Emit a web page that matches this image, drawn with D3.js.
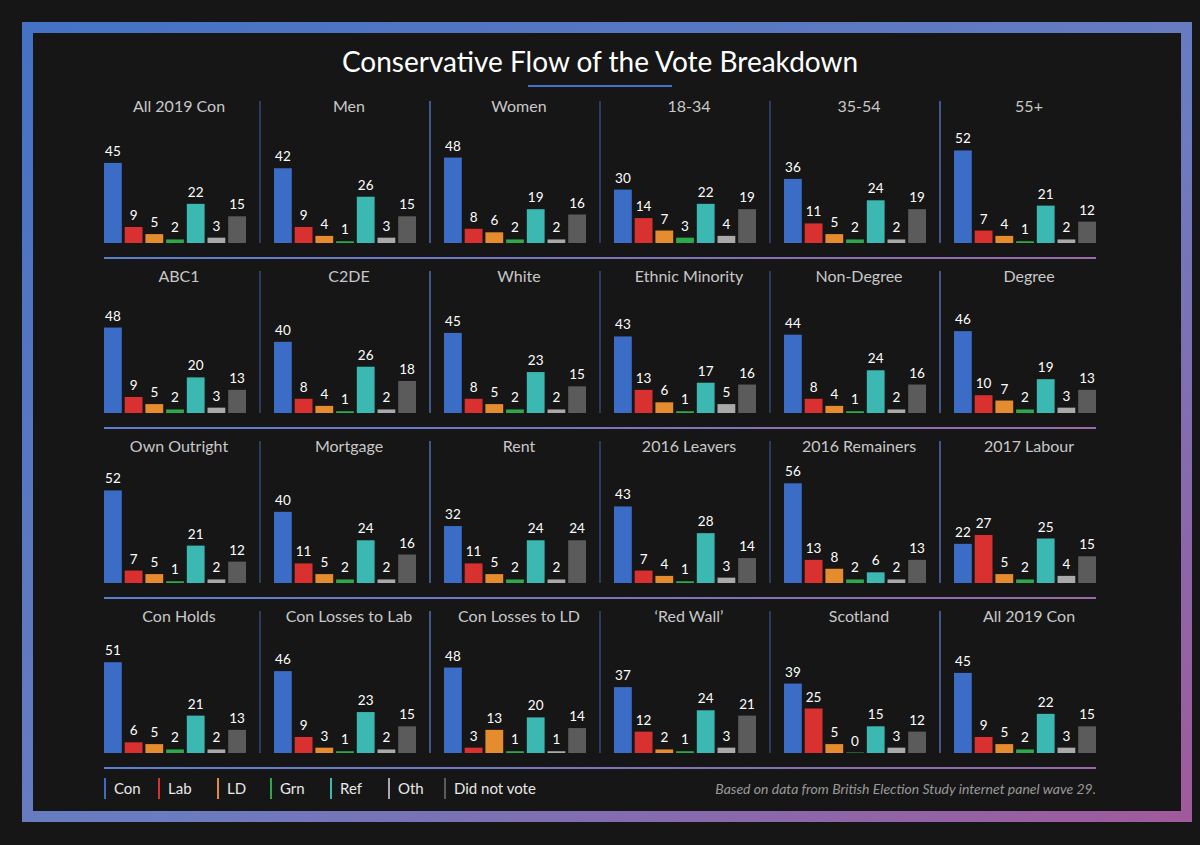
<!DOCTYPE html><html><head><meta charset="utf-8"><script src="https://cdn.jsdelivr.net/npm/d3@7"></script>
<style>body{margin:0;background:#161616}</style></head><body><svg id="c" width="1200" height="845"></svg>
<script>
const parties=["Con","Lab","LD","Grn","Ref","Oth","Did not vote"];
const colors=["#3b6cc6","#d93030","#e58d2e","#2ea84b","#3bb8b1","#a9a9a9","#5b5b5b"];
const groups=["All 2019 Con","Men","Women","18-34","35-54","55+","ABC1","C2DE","White","Ethnic Minority","Non-Degree","Degree","Own Outright","Mortgage","Rent","2016 Leavers","2016 Remainers","2017 Labour","Con Holds","Con Losses to Lab","Con Losses to LD","\u2018Red Wall\u2019","Scotland","All 2019 Con"];
const values=[[45,9,5,2,22,3,15],[42,9,4,1,26,3,15],[48,8,6,2,19,2,16],[30,14,7,3,22,4,19],[36,11,5,2,24,2,19],[52,7,4,1,21,2,12],
[48,9,5,2,20,3,13],[40,8,4,1,26,2,18],[45,8,5,2,23,2,15],[43,13,6,1,17,5,16],[44,8,4,1,24,2,16],[46,10,7,2,19,3,13],
[52,7,5,1,21,2,12],[40,11,5,2,24,2,16],[32,11,5,2,24,2,24],[43,7,4,1,28,3,14],[56,13,8,2,6,2,13],[22,27,5,2,25,4,15],
[51,6,5,2,21,2,13],[46,9,3,1,23,2,15],[48,3,13,1,20,1,14],[37,12,2,1,24,3,21],[39,25,5,0,15,3,12],[45,9,5,2,22,3,15]];
const title="Conservative Flow of the Vote Breakdown";
const note="Based on data from British Election Study internet panel wave 29.";
const svg=d3.select("#c"),F="Lato, 'Open Sans', sans-serif";
const defs=svg.append("defs");
const g=defs.append("linearGradient").attr("id","gr").attr("x1","0").attr("y1","0").attr("x2","1").attr("y2","1");
g.append("stop").attr("offset","0").attr("stop-color","#4472c4");g.append("stop").attr("offset","0.55").attr("stop-color","#6a7cc0");g.append("stop").attr("offset","1").attr("stop-color","#a05a9c");
const g2=defs.append("linearGradient").attr("id","gh").attr("x1","0").attr("x2","1");
g2.append("stop").attr("offset","0").attr("stop-color","#5a7fd0");g2.append("stop").attr("offset","1").attr("stop-color","#9a6aaa");
svg.append("rect").attr("x",27.5).attr("y",27.5).attr("width",1159).attr("height",789).attr("fill","none").attr("stroke","url(#gr)").attr("stroke-width",11);
svg.append("text").attr("x",600).attr("y",72).attr("text-anchor","middle").attr("fill","#fff").attr("font-family",F).attr("font-size",28).text(title);
svg.append("rect").attr("x",528).attr("y",85).attr("width",144).attr("height",2).attr("fill","#4472c4");
const x=d3.scaleBand().domain(d3.range(7)).range([0,142]).paddingInner(0.14);
const y=d3.scaleLinear().domain([0,10]).range([0,17.8]);
groups.forEach((name,i)=>{
 const col=i%6,row=Math.floor(i/6),ox=104+col*170,base=243+row*170;
 const p=svg.append("g").attr("transform",`translate(${ox},0)`);
 p.append("text").attr("x",71+4).attr("y",base-131).attr("text-anchor","middle").attr("fill","#c8c8c8").attr("font-family",F).attr("font-size",16).text(name);
 values[i].forEach((v,j)=>{
  p.append("rect").attr("x",x(j)).attr("width",x.bandwidth()).attr("y",base-Math.max(y(v),v===0?0.5:1.5)).attr("height",Math.max(y(v),v===0?0.5:1.5)).attr("fill",colors[j]);
  p.append("text").attr("x",x(j)+x.bandwidth()/2).attr("y",base-y(v)-7).attr("text-anchor","middle").attr("fill","#fff").attr("font-family",F).attr("font-size",13.5).text(v);
 });
 if(col<5) svg.append("line").attr("x1",ox+156).attr("x2",ox+156).attr("y1",base-142).attr("y2",base).attr("stroke",col%3==1?"#4d6fb5":"#33487a").attr("stroke-width",1.5);
 if(col==0) svg.append("rect").attr("x",104).attr("y",base+14).attr("width",992).attr("height",2).attr("fill","url(#gh)");
});
const lx=[104,158,217,270,330,388,444];
parties.forEach((pn,j)=>{
 svg.append("rect").attr("x",lx[j]).attr("y",778).attr("width",2).attr("height",21).attr("fill",colors[j]);
 svg.append("text").attr("x",lx[j]+10).attr("y",794).attr("fill","#e8e8e8").attr("font-family",F).attr("font-size",15).text(pn);
});
svg.append("text").attr("x",1096).attr("y",794).attr("text-anchor","end").attr("fill","#999").attr("font-style","italic").attr("font-family",F).attr("font-size",14).text(note);
</script></body></html>
